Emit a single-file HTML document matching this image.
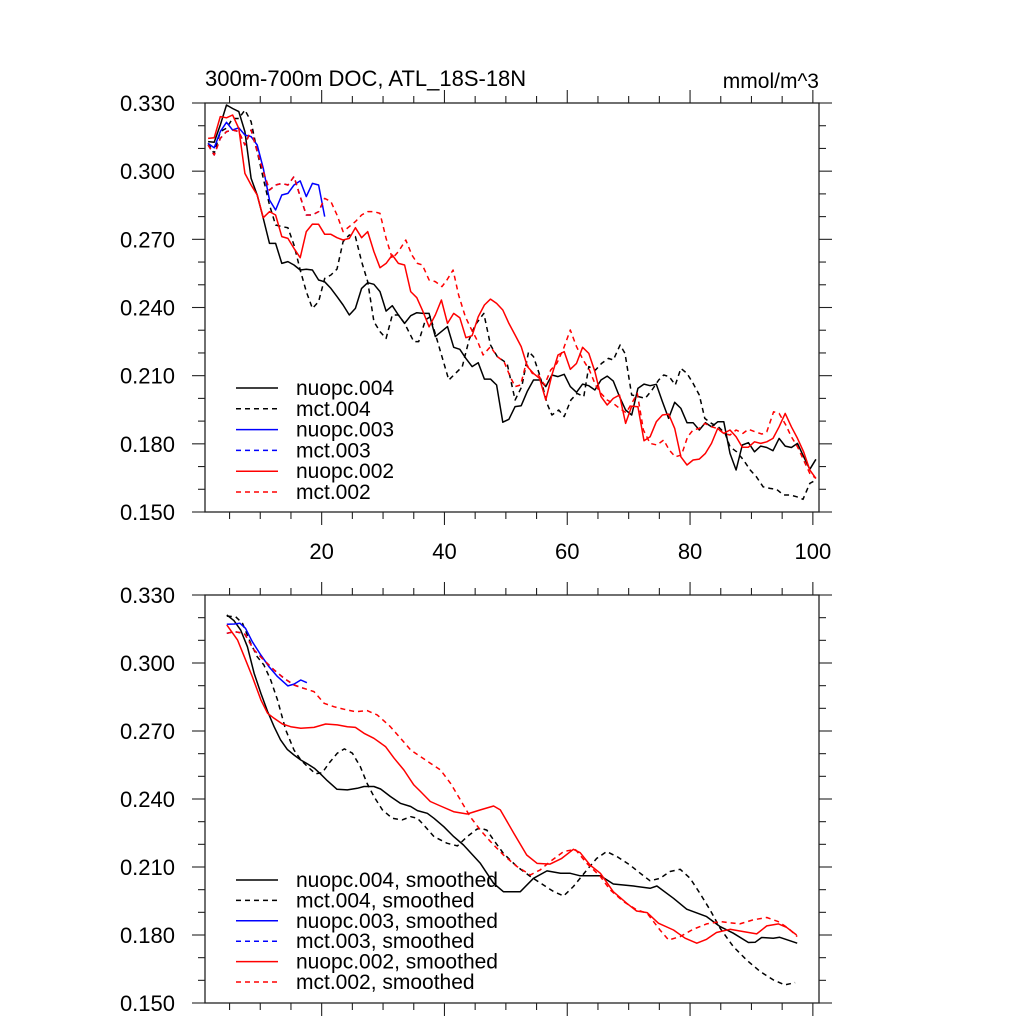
<!DOCTYPE html>
<html><head><meta charset="utf-8"><style>
html,body{margin:0;padding:0;background:#fff;}
svg{display:block;font-family:"Liberation Sans",sans-serif;}
</style></head><body>
<svg id="chart" width="1024" height="1024" viewBox="0 0 1024 1024" xmlns="http://www.w3.org/2000/svg">
<rect x="0" y="0" width="1024" height="1024" fill="#fff"/>
<text x="205" y="86" font-size="22">300m-700m DOC, ATL_18S-18N</text>
<text x="819" y="88" font-size="21" text-anchor="end">mmol/m^3</text>
</svg>
<script>
// ---------- data ----------
const xTickLabels = [20, 40, 60, 80, 100];
const yTickLabels = ["0.330","0.300","0.270","0.240","0.210","0.180","0.150"];
const yTickValues = [0.33, 0.30, 0.27, 0.24, 0.21, 0.18, 0.15];

function seq(a, n){ const r=[]; for(let i=0;i<n;i++) r.push(a+i); return r; }

const n004TopX = seq(1.5, 100);
const n004TopY = [.3130,.3127,.3203,.3291,.3276,.3262,.3174,.2968,.2895,.2792,
.2682,.2682,.2594,.2602,.2587,.2565,.2568,.2565,.2521,.2513,
.2484,.2448,.2411,.2367,.2396,.2484,.2509,.2502,.2470,.2384,
.2408,.2367,.2330,.2364,.2377,.2374,.2374,.2272,.2294,.2316,
.2225,.2216,.2176,.2140,.2157,.2085,.2085,.2059,.1895,.1908,
.1964,.1968,.2032,.2081,.2081,.2052,.2103,.2096,.2106,.2052,
.2027,.2063,.2056,.2037,.2081,.2098,.2076,.2008,.1949,.1927,
.2044,.2063,.2056,.2062,.1986,.1912,.1983,.1956,.1893,.1893,
.1861,.1893,.1875,.1897,.1897,.1758,.1685,.1795,.1805,.1765,
.1790,.1784,.1770,.1824,.1790,.1784,.1802,.1744,.1688,.1732];

const m004TopX = seq(1.5, 33).concat([35.0,35.8,36.9,37.7,38.8,40.7,41.8,42.9,44.0,45.0,46.4,47.5,48.6,50.2,51.5,52.6,53.7,54.5,55.6,56.7,57.5,58.6,59.5,60.6,61.6,62.7,63.5,64.6,65.6,66.7,67.5,68.6,69.4,70.5,71.6,72.7,73.8,74.9,75.7,76.6,77.6,78.5,79.5,80.5,81.5,82.4,83.5,84.6,85.7,86.5,87.6,88.7,89.8,90.8,91.9,93.0,94.1,95.2,96.3,97.4,98.4,99.5,100.5]);
const m004TopY = [.3122,.3078,.3174,.3189,.3232,.3232,.3269,.3218,.3086,.2968,.2851,.2763,.2756,.2751,.2675,.2565,.2470,.2396,.2426,.2528,.2543,.2569,.2690,.2719,.2712,.2602,.2514,.2338,.2294,.2264,.2367,.2367,.2330,
.2250,.2250,.2345,.2360,.2257,.2081,.2110,.2140,.2257,.2323,.2374,.2235,.2184,.2154,.1993,.2052,.2206,.2184,.2096,.1978,.1927,.1949,.1920,.1993,.2022,.2008,.2140,.2125,.2154,.2176,.2169,.2235,.2198,.2015,.2008,.2000,.2037,.2081,.2103,.2096,.2059,.2132,.2110,.2066,.2015,.1912,.1890,.1875,.1846,.1787,.1765,.1729,.1685,.1655,.1611,.1604,.1600,.1575,.1575,.1567,.1556,.1626,.1641];

const n003TopX = seq(1.5, 20);
const n003TopY = [.3122,.3103,.3174,.3215,.3181,.3191,.3159,.3152,.3115,.3012,.2873,.2829,.2895,.2902,.2939,.2957,.2888,.2946,.2939,.2800];

const m003TopX = seq(1.5, 20);
const m003TopY = [.3115,.3071,.3144,.3174,.3181,.3174,.3115,.3181,.3086,.2998,.2917,.2939,.2946,.2939,.2976,.2888,.2807,.2807,.2822,.2880];

const n002TopX = seq(1.5, 100);
const n002TopY = [.3144,.3147,.3240,.3235,.3247,.3188,.2990,.2939,.2895,.2795,
.2822,.2807,.2712,.2704,.2660,.2619,.2734,.2767,.2766,.2722,
.2722,.2707,.2697,.2704,.2751,.2707,.2734,.2646,.2575,.2594,
.2631,.2594,.2587,.2470,.2443,.2382,.2315,.2367,.2433,.2330,
.2374,.2355,.2267,.2276,.2359,.2411,.2437,
.2418,.2389,.2330,.2279,.2228,.2140,.2110,.2088,.1993,.2103,
.2191,.2206,.2128,.2154,.2225,.2198,.2118,.2008,.1971,.2000,
.2015,.1890,.1966,.1963,.1814,.1831,.1897,.1927,.1931,.1868,
.1743,.1707,.1729,.1733,.1758,.1802,.1868,.1846,.1861,.1831,
.1785,.1785,.1809,.1802,.1809,.1824,.1875,.1934,.1875,.1824,
.1765,.1685,.1648];

const m002TopX = seq(1.5, 32).concat([33.7,34.7,35.6,36.4,37.5,38.5,39.6,40.4,41.4,42.3,43.4,44.3,45.3,46.3,47.5,48.6,49.7,50.7,51.5,52.4,53.3,54.3,55.3,56.3,57.3,58.3,59.4,60.5,61.5,62.6,63.6,64.6,65.5,66.5,67.5,68.5,69.6,70.5,71.4,72.4,73.5,74.6,75.7,76.6,77.6,78.6,79.6,80.5,81.5,82.4,83.5,84.4,85.5,86.5,87.5,88.6,89.5,90.6,91.7,92.5,93.6,94.5,95.6,96.5,97.5,98.5,99.5,100.5]);
const m002TopY = [.3115,.3071,.3144,.3174,.3181,.3174,.3115,.3181,.3086,.2998,.2917,.2939,.2946,.2939,.2976,.2888,.2807,.2807,.2822,.2880,.2866,.2807,.2734,.2756,.2778,.2807,.2822,.2822,.2814,.2704,.2616,.2646,
.2697,.2631,.2594,.2587,.2521,.2514,.2492,.2521,.2565,.2455,.2360,.2308,.2257,.2191,.2228,.2184,.2162,.2096,.2052,.2059,.2154,.2110,.2103,.2059,.2125,.2154,.2220,.2301,.2228,.2169,.2125,.2059,.2022,.1993,.1978,.1956,.1937,.1978,.2022,.1861,.1802,.1795,.1817,.1773,.1743,.1751,.1831,.1861,.1868,.1890,.1875,.1868,.1846,.1839,.1861,.1846,.1864,.1853,.1843,.1853,.1941,.1934,.1883,.1831,.1787,.1729,.1670,.1648];

const n004BotX = [4.55,5.7,6.8,7.9,9.0,10.1,11.2,12.25,13.3,14.4,15.5,16.6,17.7,18.8,19.8,20.9,22.5,24.2,25.8,26.9,28.5,29.6,31.2,32.8,34.5,35.6,37.2,38.3,39.9,41.5,43.1,45.85,48.0,49.6,52.35,54.5,56.7,58.9,60.5,62.1,65.4,67.5,70.8,73.5,74.6,77.3,79.45,82.7,84.9,87.05,89.5,90.6,91.65,93.55,94.6,96.25,97.45];
const n004BotY = [.3212,.3187,.3146,.3072,.2955,.2866,.2786,.2719,.2661,.2619,.2594,.2572,.2555,.2536,.2511,.2481,.2443,.2440,.2447,.2455,.2455,.2444,.2411,.2381,.2367,.2349,.2337,.2315,.2278,.2234,.2197,.2116,.2028,.1991,.1991,.2050,.2083,.2072,.2072,.2061,.2061,.2025,.2016,.2006,.2016,.1962,.1914,.1881,.1837,.1808,.1767,.1768,.1789,.1786,.1790,.1775,.1764];

const m004BotX = [4.55,6.0,7.1,8.45,9.5,10.6,11.7,12.8,14.15,15.5,16.6,17.7,19.0,20.1,21.2,22.55,23.7,25.0,26.3,27.4,28.5,29.9,31.5,33.1,34.5,35.6,36.6,38.3,40.4,42.1,43.7,45.3,45.85,46.9,48.0,49.6,51.8,54.0,56.1,57.8,59.4,61.0,63.2,64.8,66.4,68.1,70.2,71.9,73.5,75.1,76.75,78.4,80.0,81.6,83.25,84.9,87.05,89.2,91.4,93.55,95.45,97.1];
const m004BotY = [.3207,.3204,.3175,.3087,.3028,.2991,.2925,.2837,.2705,.2616,.2572,.2543,.2511,.2516,.2558,.2602,.2621,.2602,.2543,.2469,.2411,.2352,.2315,.2308,.2322,.2315,.2286,.2234,.2205,.2193,.2234,.2267,.2271,.2263,.2219,.2160,.2102,.2058,.2021,.1991,.1972,.2014,.2087,.2138,.2168,.2146,.2109,.2072,.2039,.2050,.2080,.2090,.2050,.1984,.1911,.1830,.1749,.1690,.1639,.1602,.1580,.1590];

const n003BotX = [4.55,5.75,6.7,7.6,8.7,10.1,11.4,12.8,14.5,15.5,16.6,17.6];
const n003BotY = [.3171,.3172,.3175,.3153,.3094,.3035,.2984,.2940,.2899,.2907,.2925,.2913];

const m003BotX = [4.55,5.75,7.4,9.0,10.6,12.25,13.9,15.5,17.1];
const m003BotY = [.3131,.3138,.3131,.3057,.3013,.2969,.2932,.2903,.2888];

const n002BotX = [4.55,6.3,7.4,8.7,10.1,11.2,12.25,13.6,14.96,16.6,18.75,20.65,22.55,24.2,25.5,26.9,28.5,30.4,31.8,33.4,35.0,36.1,37.7,39.35,41.5,43.7,45.85,48.0,49.1,51.3,53.4,55.1,57.2,59.1,61.0,62.1,63.7,65.4,67.5,69.7,71.3,73.0,74.85,77.3,79.2,81.1,82.7,84.3,86.5,88.7,90.85,92.5,94.4,95.7,97.35];
const n002BotY = [.3168,.3102,.3028,.2940,.2837,.2778,.2756,.2731,.2719,.2712,.2716,.2731,.2727,.2719,.2716,.2690,.2668,.2631,.2580,.2528,.2462,.2433,.2389,.2369,.2344,.2334,.2352,.2369,.2352,.2249,.2153,.2116,.2113,.2138,.2178,.2163,.2109,.2072,.1991,.1940,.1906,.1899,.1852,.1822,.1786,.1764,.1781,.1811,.1825,.1815,.1805,.1840,.1849,.1834,.1800];

const m002BotX = [4.55,5.75,7.4,9.0,10.6,12.25,13.9,15.5,17.1,18.75,20.4,22.0,23.6,25.5,27.4,29.05,31.2,32.85,34.5,36.1,37.7,39.35,41.0,42.6,44.2,45.85,47.5,49.6,51.8,54.0,55.6,57.2,59.4,61.3,63.2,65.4,67.0,69.2,71.3,73.0,75.1,76.5,78.4,80.5,82.7,84.9,88.1,90.3,92.5,94.35,96.0,97.45];
const m002BotY = [.3131,.3138,.3131,.3057,.3013,.2969,.2932,.2903,.2888,.2874,.2822,.2807,.2796,.2785,.2790,.2771,.2719,.2668,.2616,.2587,.2558,.2528,.2469,.2396,.2322,.2263,.2212,.2153,.2102,.2065,.2087,.2124,.2168,.2178,.2116,.2058,.1999,.1947,.1911,.1896,.1822,.1778,.1793,.1825,.1849,.1859,.1849,.1867,.1877,.1859,.1830,.1793];

const legendTop = ["nuopc.004","mct.004","nuopc.003","mct.003","nuopc.002","mct.002"];
const legendBot = ["nuopc.004, smoothed","mct.004, smoothed","nuopc.003, smoothed","mct.003, smoothed","nuopc.002, smoothed","mct.002, smoothed"];

// ---------- drawing ----------
const NS = "http://www.w3.org/2000/svg";
const svg = document.getElementById("chart");
const X0 = 205, X1 = 819, XMIN = 1, XMAX = 101;
function xs(v){ return X0 + (v - XMIN) / (XMAX - XMIN) * (X1 - X0); }
function makeY(top, bot){ return v => top + (0.33 - v) / 0.18 * (bot - top); }
function el(tag, attrs){ const e = document.createElementNS(NS, tag); for (const k in attrs) e.setAttribute(k, attrs[k]); return e; }

const styles = [
  {c:"#000", d:null}, {c:"#000", d:"5,4"},
  {c:"#0000ff", d:null}, {c:"#0000ff", d:"5,4"},
  {c:"#ff0000", d:null}, {c:"#ff0000", d:"5,4"}
];

function drawPanel(name, top, bot, showXLabels, series, legend, legTop, legStep){
  const ys = makeY(top, bot);
  const g = el("g", {});
  
  
  svg.appendChild(g);
  const frame = el("rect", {x:X0, y:top, width:X1-X0, height:bot-top, fill:"none", stroke:"#222", "stroke-width":1.3});
  
  
  g.appendChild(frame);
  for (let v = 5; v <= 100; v += 5){
    const major = v % 20 === 0, L = major ? 13 : 7, px = xs(v);
    const t1 = el("line", {x1:px, x2:px, y1:bot, y2:bot+L, stroke:"#222", "stroke-width":1.1});
    
    
    g.appendChild(t1);
    const t2 = el("line", {x1:px, x2:px, y1:top, y2:top-L, stroke:"#222", "stroke-width":1.1});
    
    
    g.appendChild(t2);
  }
  if (showXLabels){
    xTickLabels.forEach(v => {
      const t = el("text", {x:xs(v), y:bot+47, "font-size":22, "text-anchor":"middle"});
      t.textContent = v;
      
      
      g.appendChild(t);
    });
  }
  for (let i = 0; i <= 18; i++){
    const v = 0.33 - i * 0.01, major = i % 3 === 0, L = major ? 13 : 7, py = ys(v);
    const t1 = el("line", {x1:X0, x2:X0-L, y1:py, y2:py, stroke:"#222", "stroke-width":1.1});
    
    
    g.appendChild(t1);
    const t2 = el("line", {x1:X1, x2:X1+L, y1:py, y2:py, stroke:"#222", "stroke-width":1.1});
    
    
    g.appendChild(t2);
  }
  yTickValues.forEach((v, i) => {
    const t = el("text", {x:175, y:ys(v)+8, "font-size":22, "text-anchor":"end"});
    t.textContent = yTickLabels[i];
    
    
    g.appendChild(t);
  });
  series.forEach((s, i) => {
    const pts = s[0].map((x, j) => xs(x).toFixed(1) + "," + ys(s[1][j]).toFixed(1)).join(" ");
    const a = {points:pts, fill:"none", stroke:styles[i].c, "stroke-width":1.5, "stroke-linejoin":"round"};
    if (styles[i].d) a["stroke-dasharray"] = styles[i].d;
    const p = el("polyline", a);
    
    
    g.appendChild(p);
  });
  legend.forEach((lab, i) => {
    const y = legTop + i * legStep;
    const a = {x1:236, x2:278, y1:y, y2:y, stroke:styles[i].c, "stroke-width":1.5};
    if (styles[i].d) a["stroke-dasharray"] = styles[i].d;
    const ln = el("line", a);
    
    
    g.appendChild(ln);
    const t = el("text", {x:296, y:y+7, "font-size":21});
    t.textContent = lab;
    
    
    g.appendChild(t);
  });
}

drawPanel("top-panel", 103, 512, true,
  [[n004TopX,n004TopY],[m004TopX,m004TopY],[n003TopX,n003TopY],[m003TopX,m003TopY],[n002TopX,n002TopY],[m002TopX,m002TopY]],
  legendTop, 388, 20.8);
drawPanel("bottom-panel", 595, 1003, false,
  [[n004BotX,n004BotY],[m004BotX,m004BotY],[n003BotX,n003BotY],[m003BotX,m003BotY],[n002BotX,n002BotY],[m002BotX,m002BotY]],
  legendBot, 880, 20.4);
</script>
</body></html>
